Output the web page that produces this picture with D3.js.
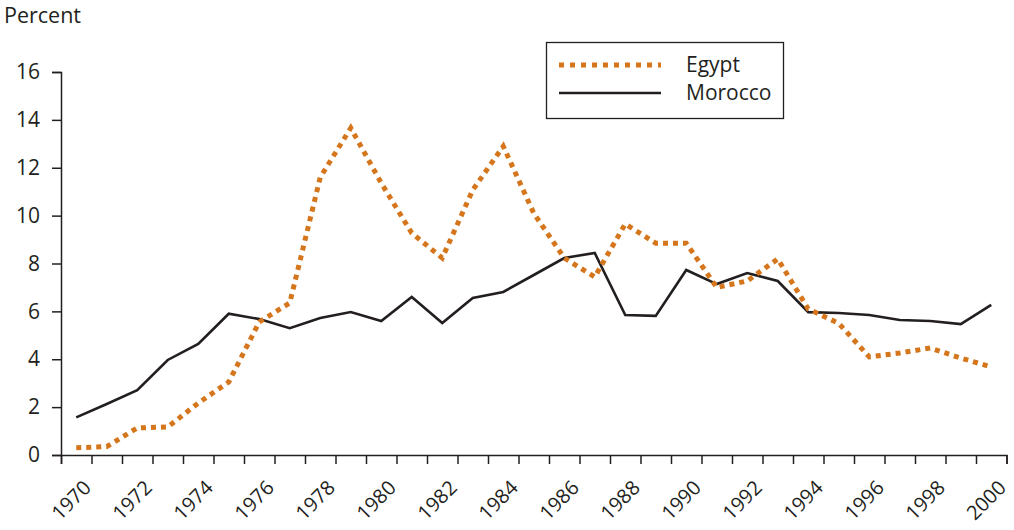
<!DOCTYPE html>
<html>
<head>
<meta charset="utf-8">
<script src="https://cdn.jsdelivr.net/npm/d3@7"></script>
<style>
  html, body { margin: 0; padding: 0; background: #fff; }
  svg { display: block; font-family: "Open Sans", sans-serif; }
</style>
</head>
<body>
<svg id="chart" width="1014" height="530"></svg>
<script>
// Annual rates (percent), 1970-2000
const years = d3.range(1970, 2001);
const egypt = [0.3, 0.35, 1.13, 1.17, 2.17, 3.05, 5.56, 6.35, 11.6, 13.66,
               11.36, 9.27, 8.23, 11.07, 12.9, 10.1, 8.23, 7.44, 9.65, 8.85,
               8.85, 7.0, 7.27, 8.19, 6.1, 5.5, 4.1, 4.26, 4.47, 4.05, 3.68];
const morocco = [1.57, 2.13, 2.71, 3.97, 4.64, 5.9, 5.68, 5.3, 5.72, 5.97,
                 5.6, 6.6, 5.51, 6.56, 6.81, 7.52, 8.23, 8.44, 5.85, 5.81,
                 7.73, 7.14, 7.6, 7.27, 5.97, 5.93, 5.85, 5.64, 5.6, 5.47, 6.27];
const yTicks = [0, 2, 4, 6, 8, 10, 12, 14, 16];
const xLabels = years.filter(y => y % 2 === 0);
const seriesNames = ["Egypt", "Morocco"];

const ink = "#231f20";
const orange = "#d5761d";

const svg = d3.select("#chart");

// Each year occupies one slot; points sit at slot centres, ticks at slot edges
const x = d3.scaleLinear().domain([1969.5, 2000.5]).range([61, 1006.5]);
const y = d3.scaleLinear().domain([0, 16]).range([455, 72]);

// y axis
const yAxis = svg.append("g")
  .attr("transform", `translate(${x(1969.5)},0)`)
  .call(d3.axisLeft(y).tickValues(yTicks).tickSize(9).tickPadding(12).tickFormat(d3.format("d")));
yAxis.select(".domain").attr("stroke", ink).attr("stroke-width", 1.5);
yAxis.selectAll(".tick line").attr("stroke", ink).attr("stroke-width", 1.5);
yAxis.selectAll(".tick text").attr("fill", ink).attr("font-size", 21)
  .attr("font-family", "'Open Sans', sans-serif");

// x axis: ticks at year boundaries
const edges = d3.range(1969.5, 2001, 1);
const xAxis = svg.append("g")
  .attr("transform", `translate(0,${y(0)})`)
  .call(d3.axisBottom(x).tickValues(edges).tickSize(9).tickFormat(""));
xAxis.select(".domain").attr("stroke", ink).attr("stroke-width", 1.5);
xAxis.selectAll(".tick line").attr("stroke", ink).attr("stroke-width", 1.5);

// rotated year labels every other year
svg.append("g").selectAll("text")
  .data(xLabels)
  .join("text")
  .attr("transform", d => `translate(${x(d) + 16},489) rotate(-45)`)
  .attr("text-anchor", "end")
  .attr("fill", ink)
  .attr("font-size", 20)
  .text(d => d);

// axis title
svg.append("text")
  .attr("x", 4).attr("y", 23)
  .attr("fill", ink)
  .attr("font-size", 21.5)
  .text("Percent");

const line = d3.line()
  .x((d, i) => x(years[i]))
  .y(d => y(d));

// Morocco: solid
svg.append("path")
  .datum(morocco)
  .attr("d", line)
  .attr("fill", "none")
  .attr("stroke", ink)
  .attr("stroke-width", 2.6)
  .attr("stroke-linejoin", "miter");

// Egypt: square dots
svg.append("path")
  .datum(egypt)
  .attr("d", line)
  .attr("fill", "none")
  .attr("stroke", orange)
  .attr("stroke-width", 5)
  .attr("stroke-dasharray", "5,5");

// legend
const legend = svg.append("g");
legend.append("rect")
  .attr("x", 546.5).attr("y", 42.5).attr("width", 237).attr("height", 76)
  .attr("fill", "#fff").attr("stroke", ink).attr("stroke-width", 1.3);
const styles = [
  { stroke: orange, width: 5, dash: "5,6" },
  { stroke: ink, width: 2.6, dash: null }
];
seriesNames.forEach((name, i) => {
  const ly = 65 + i * 28;
  legend.append("line")
    .attr("x1", 559).attr("x2", 661).attr("y1", ly).attr("y2", ly)
    .attr("stroke", styles[i].stroke)
    .attr("stroke-width", styles[i].width)
    .attr("stroke-dasharray", styles[i].dash);
  legend.append("text")
    .attr("x", 686).attr("y", ly + 7)
    .attr("fill", ink)
    .attr("font-size", 21)
    .text(name);
});
</script>
</body>
</html>
